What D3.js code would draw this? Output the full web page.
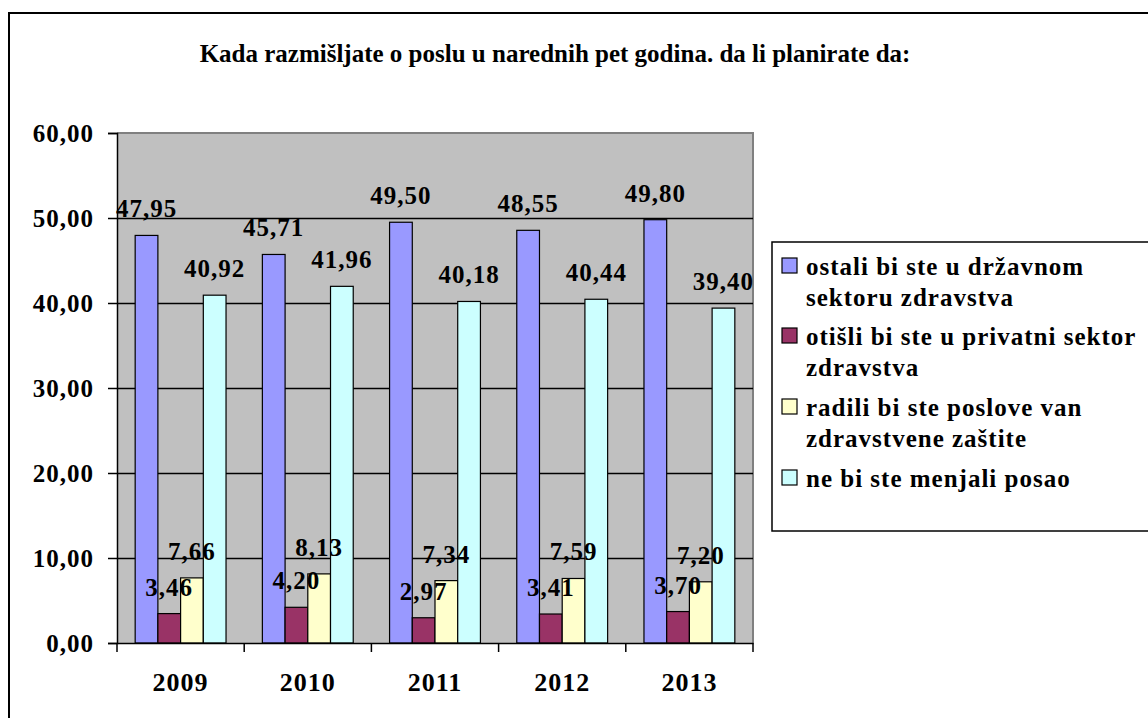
<!DOCTYPE html>
<html><head><meta charset="utf-8">
<script src="https://cdn.jsdelivr.net/npm/d3@7"></script>
<style>
html,body{margin:0;padding:0;background:#fff;}
svg{display:block;}
svg text{font-family:"Liberation Serif","Times New Roman",Times,"DejaVu Serif",serif !important;font-weight:bold;fill:#000;}
</style></head>
<body>
<svg id="chart" width="1148" height="718"></svg>
<script>
const title = "Kada razmišljate o poslu u narednih pet godina. da li planirate da:";
const years = ["2009","2010","2011","2012","2013"];
const seriesNames = [
  ["ostali bi ste u državnom","sektoru zdravstva"],
  ["otišli bi ste u privatni sektor","zdravstva"],
  ["radili bi ste poslove van","zdravstvene zaštite"],
  ["ne bi ste menjali posao"]
];
const seriesColors = ["#9999FF","#993366","#FFFFCC","#CCFFFF"];
const drzavni = [47.95,45.71,49.50,48.55,49.80];
const privatni = [3.46,4.20,2.97,3.41,3.70];
const vanZdravstva = [7.66,8.13,7.34,7.59,7.20];
const nePromena = [40.92,41.96,40.18,40.44,39.40];
const yTicks = [0,10,20,30,40,50,60];

const seriesValues = [drzavni, privatni, vanZdravstva, nePromena];
const fmt = v => d3.format(".2f")(v).replace(".", ",");

const svg = d3.select("#chart");
const plot = {left:117, right:753, top:133, bottom:643};

svg.append("rect").attr("x",9).attr("y",13).attr("width",1160).attr("height",720)
  .attr("fill","none").attr("stroke","#000").attr("stroke-width",2);

svg.append("text").attr("x",555).attr("y",62).attr("text-anchor","middle")
  .style("font-size","25px").text(title);

const x0 = d3.scaleBand().domain(years).range([plot.left, plot.right]).padding(0);
const x1 = d3.scaleBand().domain(d3.range(4)).range([0, x0.bandwidth()]).paddingInner(0).paddingOuter(0.8);
const y = d3.scaleLinear().domain([0,60]).range([plot.bottom, plot.top]);

svg.append("rect").attr("x",plot.left).attr("y",plot.top)
  .attr("width",plot.right-plot.left).attr("height",plot.bottom-plot.top)
  .attr("fill","#C0C0C0");
svg.append("path").attr("d",`M${plot.left},${plot.top}H${plot.right}V${plot.bottom}`)
  .attr("fill","none").attr("stroke","#808080").attr("stroke-width",2);

svg.append("g").selectAll("line").data(yTicks.filter(t=>t>0 && t<60)).join("line")
  .attr("x1",plot.left).attr("x2",plot.right)
  .attr("y1",d=>Math.round(y(d))+0.5).attr("y2",d=>Math.round(y(d))+0.5)
  .attr("stroke","#000").attr("stroke-width",1.3);

const groups = svg.append("g").selectAll("g").data(years).join("g")
  .attr("transform",d=>`translate(${x0(d)},0)`);
groups.selectAll("rect").data((d,i)=>seriesValues.map((s,k)=>({k, v:s[i]}))).join("rect")
  .attr("x",d=>x1(d.k)).attr("width",x1.bandwidth())
  .attr("y",d=>y(d.v)).attr("height",d=>y(0)-y(d.v))
  .attr("fill",d=>seriesColors[d.k]).attr("stroke","#000").attr("stroke-width",1.2);

const yAxis = d3.axisLeft(y).tickValues(yTicks).tickSize(9).tickPadding(14).tickFormat(fmt);
const gy = svg.append("g").attr("transform",`translate(${plot.left},0)`).call(yAxis)
  .attr("font-family",null).attr("font-size",null);
gy.select(".domain").attr("stroke","#000").attr("stroke-width",1.5);
gy.selectAll(".tick line").attr("stroke","#000").attr("stroke-width",1.5);
gy.selectAll(".tick text").style("font-size","25px").style("letter-spacing","1px").attr("fill","#000");

const xAxis = d3.axisBottom(x0).tickSize(0).tickPadding(30);
const gx = svg.append("g").attr("transform",`translate(0,${plot.bottom})`).call(xAxis)
  .attr("font-family",null).attr("font-size",null);
gx.select(".domain").attr("stroke","#000").attr("stroke-width",1.5);
gx.selectAll(".tick text").style("font-size","26px").style("letter-spacing","1px").attr("fill","#000");
const bounds = years.map(d=>x0(d)).concat([plot.right]);
svg.append("g").selectAll("line").data(bounds).join("line")
  .attr("x1",d=>d).attr("x2",d=>d).attr("y1",plot.bottom).attr("y2",plot.bottom+9)
  .attr("stroke","#000").attr("stroke-width",1.5);

groups.selectAll("text.lbl").data((d,i)=>seriesValues.map((s,k)=>({k, v:s[i]}))).join("text")
  .attr("class","lbl")
  .attr("x",d=>x1(d.k)+x1.bandwidth()/2).attr("y",d=>y(d.v)-18)
  .attr("text-anchor","middle").style("font-size","25px").style("letter-spacing","1px")
  .text(d=>fmt(d.v));

const leg = svg.append("g");
leg.append("rect").attr("x",772).attr("y",242).attr("width",400).attr("height",289)
  .attr("fill","#fff").attr("stroke","#000").attr("stroke-width",1.5);
const legBase = [275,345,416,487];
seriesNames.forEach((lines,k)=>{
  leg.append("rect").attr("x",782).attr("y",legBase[k]-17).attr("width",15).attr("height",15)
    .attr("fill",seriesColors[k]).attr("stroke","#000").attr("stroke-width",1.2);
  lines.forEach((ln,j)=>{
    leg.append("text").attr("x",806).attr("y",legBase[k]+j*31)
      .style("font-size","25px").style("letter-spacing","1px").text(ln);
  });
});
</script>
</body></html>
